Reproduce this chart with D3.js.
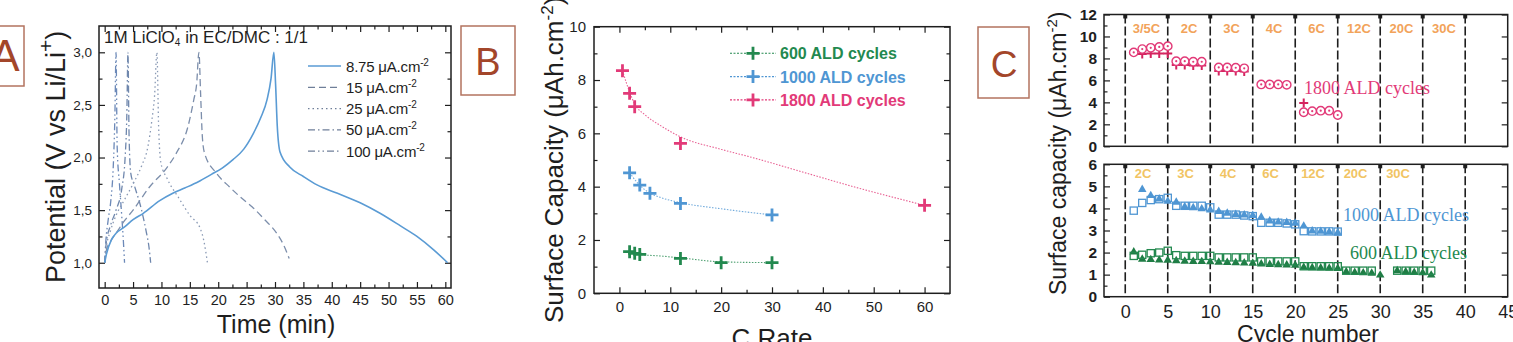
<!DOCTYPE html>
<html>
<head>
<meta charset="utf-8">
<script src="https://cdn.jsdelivr.net/npm/d3@7"></script>
<style>
  body { margin: 0; background: #fff; }
  svg { display: block; }
</style>
</head>
<body>
<script>
// ---------------- data : panel A (galvanostatic curves, [time min, potential V])
const curve875 = [[0,1.0],[0.3,1.08],[1.2,1.22],[2,1.28],[3.5,1.34],[5,1.41],[6.8,1.47],[9.7,1.59],[12,1.66],[14.1,1.71],[16.5,1.77],[18.8,1.84],[20.7,1.9],[22.6,1.98],[24.5,2.08],[26.2,2.23],[27.5,2.38],[28.6,2.55],[29.3,2.75],[29.8,3.0],[30.1,2.7],[30.4,2.3],[30.9,2.05],[32.6,1.91],[35,1.82],[37.4,1.74],[41,1.66],[45,1.57],[48.5,1.47],[52.1,1.35],[55,1.25],[58,1.12],[60.4,1.0]]
const curve15 = [[0,1.0],[0.3,1.12],[1,1.2],[2,1.28],[3.5,1.4],[5,1.5],[7.9,1.72],[10.9,1.9],[12.6,2.04],[14.7,2.3],[15.7,2.55],[16.2,2.7],[16.6,3.0],[16.9,2.6],[17.2,2.2],[17.6,2.04],[19.7,1.85],[22,1.72],[24,1.62],[26,1.53],[28,1.42],[30.3,1.28],[31.5,1.17],[32.5,1.04]]
const curve25 = [[0,1.0],[0.3,1.15],[1,1.3],[2,1.45],[3.5,1.6],[5,1.75],[6.5,1.92],[7.6,2.1],[8.3,2.35],[8.8,2.6],[9.2,3.0],[9.5,2.3],[9.9,1.95],[11,1.8],[13,1.62],[15,1.45],[16.8,1.33],[17.5,1.2],[18.1,1.0]]
const curve50 = [[0,1.0],[0.3,1.2],[1,1.35],[2,1.5],[3,1.7],[3.6,2.0],[3.9,2.4],[4.1,3.0],[4.3,2.2],[4.6,1.85],[5.2,1.74],[6.5,1.5],[7.3,1.3],[7.8,1.15],[8.1,1.0]]
const curve100 = [[0,1.0],[0.2,1.2],[0.6,1.4],[1.1,1.6],[1.5,1.9],[1.8,2.4],[2.0,3.0],[2.2,2.1],[2.6,1.75],[3.0,1.45],[3.3,1.2],[3.5,1.0]]
const legendA = ['8.75 μA.cm', '15 μA.cm', '25 μA.cm', '50 μA.cm', '100 μA.cm']
const timeTicks = [0,5,10,15,20,25,30,35,40,45,50,55,60]
const potentialTicks = [1.0,1.5,2.0,2.5,3.0]

// ---------------- data : panel B (capacity vs C rate)
const cRate600 = [2,3,4,12,20,30]
const cap600 = [1.56,1.5,1.46,1.31,1.15,1.15]
const cRate1000 = [2,4,6,12,30]
const cap1000 = [4.52,4.06,3.75,3.37,2.94]
const cRate1800 = [0.6,2,3,12,60]
const cap1800 = [8.35,7.5,7.0,5.62,3.3]
const fitRate600 = [2,4,8,12,20,30]
const fitCap600 = [1.56,1.46,1.4,1.33,1.18,1.15]
const fitRate1000 = [2,4,6,8,12,20,30]
const fitCap1000 = [4.52,4.05,3.76,3.6,3.4,3.17,2.94]
const fitRate1800 = [0.6,2,3,5,8,12,20,26,36,46,60]
const fitCap1800 = [8.35,7.55,7.1,6.7,6.3,5.87,5.4,5.1,4.55,4.0,3.3]
const legendB = ['600 ALD cycles', '1000 ALD cycles', '1800 ALD cycles']
const cRateTicks = [0,10,20,30,40,50,60]
const capTicksB = [0,2,4,6,8,10]

// ---------------- data : panel C (capacity vs cycle number)
const circ1800Cycle = [1,2,3,4,5,6,7,8,9,11,12,13,14,16,17,18,19,21,22,23,24,25]
const circ1800Cap = [8.55,8.85,8.97,9.05,9.12,7.75,7.75,7.7,7.7,7.18,7.18,7.15,7.1,5.63,5.63,5.63,5.6,3.1,3.2,3.24,3.24,2.85]
const plus1800Cycle = [2,3,4,5,6,7,8,9,11,12,13,14,21]
const plus1800Cap = [8.4,8.45,8.45,8.45,7.4,7.4,7.35,7.35,6.85,6.85,6.85,6.8,3.95]
const sq1000Cycle = d3.range(1, 26)
const sq1000Cap = [3.9,4.25,4.38,4.42,4.48,4.12,4.12,4.12,4.12,4.05,3.72,3.72,3.72,3.68,3.65,3.35,3.35,3.35,3.32,3.28,2.97,2.96,2.96,2.96,2.95]
const tri1000Cycle = d3.range(2, 26)
const tri1000Cap = [4.88,4.6,4.45,4.35,4.3,4.1,4.05,4.0,3.95,3.88,3.8,3.75,3.72,3.7,3.62,3.45,3.4,3.38,3.35,3.22,3.0,2.98,2.95,2.92]
const sq600Cycle = [1,2,3,4,5,6,7,8,9,10,11,12,13,14,15,16,17,18,19,20,21,22,23,24,25,26,27,28,29,32,33,34,35,36]
const sq600Cap = [1.85,1.9,1.97,2.0,2.08,1.88,1.85,1.85,1.85,1.85,1.78,1.78,1.78,1.78,1.78,1.6,1.6,1.6,1.6,1.6,1.38,1.38,1.38,1.38,1.38,1.18,1.18,1.18,1.18,1.18,1.18,1.18,1.18,1.18]
const tri600Cycle = [1,2,3,4,5,6,7,8,9,10,11,12,13,14,15,16,17,18,19,20,21,22,23,24,25,26,27,28,29,30,32,33,34,35,36]
const tri600Cap = [2.05,1.72,1.7,1.68,1.67,1.65,1.63,1.62,1.61,1.6,1.58,1.57,1.56,1.55,1.54,1.5,1.48,1.47,1.46,1.45,1.35,1.33,1.32,1.31,1.3,1.15,1.12,1.1,1.08,1.0,1.2,1.15,1.12,1.1,1.0]
const ratesTop = ['3/5C','2C','3C','4C','6C','12C','20C','30C']
const ratesBottom = ['2C','3C','4C','6C','12C','20C','30C']
const cycleTicks = [0,5,10,15,20,25,30,35,40,45]
const sectionLines = [0,5,10,15,20,25,30,35,40]
const capTicksTop = [0,2,4,6,8,10,12]
const capTicksBottom = [0,1,2,3,4,5,6]

// ---------------- styles
const SANS = 'Arial, "Liberation Sans", sans-serif'
const SERIF = '"Times New Roman", "Liberation Serif", serif'
const INK = '#1e1e1e'
const green = '#23894f', blue = '#4f96d3', pink = '#e23a78'
const boxStroke = '#b3735f', boxInk = '#a3462a'

const svg = d3.select('body').append('svg')
    .attr('width', 1513)
    .attr('height', 342)

function tickAxis(g, axisFn, scale, tx, ty, values, size, fmt, pad, fontSize, weight) {
    const a = g.append('g')
        .attr('transform', `translate(${tx},${ty})`)
        .call(axisFn(scale).tickValues(values).tickSize(-size).tickPadding(pad).tickFormat(fmt))
    a.select('.domain').remove()
    a.selectAll('line').attr('stroke', INK).attr('stroke-width', 1.2)
    a.selectAll('text')
        .attr('font-size', fontSize)
        .attr('font-family', SANS)
        .attr('font-weight', weight || 'normal')
        .attr('fill', INK)
    return a
}
const none = () => ''

function frame(g, x, y) {
    const [x0, x1] = x.range(), [y0, y1] = y.range()
    g.append('rect')
        .attr('x', x0).attr('y', y1)
        .attr('width', x1 - x0).attr('height', y0 - y1)
        .attr('fill', 'none').attr('stroke', INK).attr('stroke-width', 1.5)
}

function letterBox(x, y, w, h, letter, tx, ty, size) {
    svg.append('rect').attr('x', x).attr('y', y).attr('width', w).attr('height', h)
        .attr('fill', 'none').attr('stroke', boxStroke).attr('stroke-width', 1.5)
    svg.append('text').attr('x', tx).attr('y', ty).attr('text-anchor', 'middle')
        .attr('font-family', SANS).attr('font-size', size).attr('fill', boxInk).text(letter)
}

// superscript "-2" after a text
function supTwo(t, size, shift) {
    t.append('tspan').attr('dy', -shift).attr('font-size', size).text('-2')
    return t
}

/////////////////////////////////////////// PANEL A
const gA = svg.append('g')
const xA = d3.scaleLinear().domain([-1, 61]).range([99, 451])
const yA = d3.scaleLinear().domain([0.76, 3.25]).range([288, 26])
const comma = d => d3.format('.1f')(d).replace('.', ',')

tickAxis(gA, d3.axisBottom, xA, 0, 288, timeTicks, 6, d3.format('d'), 7, 14.5)
tickAxis(gA, d3.axisBottom, xA, 0, 288, d3.range(2.5, 60, 5), 3.5, none, 7, 14)
tickAxis(gA, d3.axisTop, xA, 0, 26, timeTicks, 6, none, 7, 14)
tickAxis(gA, d3.axisTop, xA, 0, 26, d3.range(2.5, 60, 5), 3.5, none, 7, 14)
tickAxis(gA, d3.axisLeft, yA, 99, 0, potentialTicks, 6, comma, 7, 13.5)
tickAxis(gA, d3.axisLeft, yA, 99, 0, [1.25, 1.75, 2.25, 2.75], 3.5, none, 7, 13)
tickAxis(gA, d3.axisRight, yA, 451, 0, potentialTicks, 6, none, 7, 13)
tickAxis(gA, d3.axisRight, yA, 451, 0, [1.25, 1.75, 2.25, 2.75], 3.5, none, 7, 13)
frame(gA, xA, yA)

const lineA = d3.line().x(d => xA(d[0])).y(d => yA(d[1])).curve(d3.curveMonotoneX)
const curvesA = [
    { data: curve875, color: '#5a9bd4', dash: null, w: 1.6 },
    { data: curve15, color: '#7c8eab', dash: '7,4', w: 1.3 },
    { data: curve25, color: '#8a9ab5', dash: '1.5,3', w: 1.3 },
    { data: curve50, color: '#6f87ad', dash: '7,3,1.5,3', w: 1.3 },
    { data: curve100, color: '#6c89b8', dash: '7,3,1.5,3,1.5,3', w: 1.3 }
]
curvesA.slice().reverse().forEach(c => {
    gA.append('path').attr('d', lineA(c.data)).attr('fill', 'none')
        .attr('stroke', c.color).attr('stroke-width', c.w)
        .attr('stroke-dasharray', c.dash)
})

// legend A
curvesA.forEach((c, i) => {
    const yy = 66 + i * 21.3
    gA.append('line').attr('x1', 308).attr('x2', 341).attr('y1', yy).attr('y2', yy)
        .attr('stroke', i === 0 ? c.color : '#6f7f99').attr('stroke-width', 1.3).attr('stroke-dasharray', c.dash)
    const t = gA.append('text').attr('x', 346).attr('y', yy + 5.5)
        .attr('font-family', SANS).attr('font-size', 15).attr('fill', INK).attr('letter-spacing', -0.2)
        .text(legendA[i])
    supTwo(t, 10, 6)
})

const noteA = gA.append('text').attr('x', 104).attr('y', 43)
    .attr('font-family', SANS).attr('font-size', 17).attr('fill', INK)
noteA.append('tspan').text('1M LiClO')
noteA.append('tspan').attr('font-size', 10).attr('dy', 3).text('4')
noteA.append('tspan').attr('dy', -3).text(' in EC/DMC : 1/1')

gA.append('text').attr('x', 276).attr('y', 333).attr('text-anchor', 'middle')
    .attr('font-family', SANS).attr('font-size', 25).attr('fill', INK).text('Time (min)')
const yLabA = gA.append('text').attr('transform', 'translate(65,283) rotate(-90)')
    .attr('font-family', SANS).attr('font-size', 27).attr('fill', INK)
yLabA.append('tspan').text('Potential (V vs Li/Li')
yLabA.append('tspan').attr('dy', -12).attr('font-size', 21).text('+')
yLabA.append('tspan').attr('dy', 12).text(')')

letterBox(-30, 26, 54, 60, 'A', 5, 71, 44)

/////////////////////////////////////////// PANEL B
const gB = svg.append('g')
const xB = d3.scaleLinear().domain([-5, 65]).range([594, 950])
const yB = d3.scaleLinear().domain([0, 10]).range([293.3, 26.7])

tickAxis(gB, d3.axisBottom, xB, 0, 293.3, cRateTicks, 6, d3.format('d'), 8, 15)
tickAxis(gB, d3.axisBottom, xB, 0, 293.3, d3.range(5, 65, 10), 3.5, none, 8, 15)
tickAxis(gB, d3.axisTop, xB, 0, 26.7, cRateTicks, 6, none, 8, 15)
tickAxis(gB, d3.axisTop, xB, 0, 26.7, d3.range(5, 65, 10), 3.5, none, 8, 15)
tickAxis(gB, d3.axisLeft, yB, 594, 0, capTicksB, 6, d3.format('d'), 8, 15)
tickAxis(gB, d3.axisLeft, yB, 594, 0, [1,3,5,7,9], 3.5, none, 8, 15)
tickAxis(gB, d3.axisRight, yB, 950, 0, capTicksB, 6, none, 8, 15)
tickAxis(gB, d3.axisRight, yB, 950, 0, [1,3,5,7,9], 3.5, none, 8, 15)
frame(gB, xB, yB)

const lineB = d3.line().x(d => xB(d[0])).y(d => yB(d[1])).curve(d3.curveMonotoneX)
const seriesB = [
    { rate: cRate600, cap: cap600, fr: fitRate600, fc: fitCap600, color: green },
    { rate: cRate1000, cap: cap1000, fr: fitRate1000, fc: fitCap1000, color: blue },
    { rate: cRate1800, cap: cap1800, fr: fitRate1800, fc: fitCap1800, color: pink }
]
const crossPath = s => `M${-s},0H${s}M0,${-s}V${s}`
seriesB.forEach(s => {
    gB.append('path').attr('d', lineB(d3.zip(s.fr, s.fc))).attr('fill', 'none')
        .attr('stroke', s.color).attr('stroke-width', 1.1).attr('stroke-dasharray', '1.5,1.5').attr('opacity', 0.8)
    gB.selectAll(null).data(d3.zip(s.rate, s.cap)).join('path')
        .attr('transform', d => `translate(${xB(d[0])},${yB(d[1])})`)
        .attr('d', crossPath(6.5)).attr('stroke', s.color).attr('stroke-width', 2.8).attr('fill', 'none')
})

seriesB.forEach((s, i) => {
    const yy = 53.3 + i * 23.3
    gB.append('line').attr('x1', 730).attr('x2', 776).attr('y1', yy).attr('y2', yy)
        .attr('stroke', s.color).attr('stroke-width', 1.1).attr('stroke-dasharray', '2,1.5')
    gB.append('path').attr('transform', `translate(753,${yy})`).attr('d', crossPath(6.5))
        .attr('stroke', s.color).attr('stroke-width', 2.8)
    gB.append('text').attr('x', 780).attr('y', yy + 6)
        .attr('font-family', SANS).attr('font-weight', 'bold').attr('font-size', 16)
        .attr('fill', s.color).text(legendB[i])
})

gB.append('text').attr('x', 772).attr('y', 347).attr('text-anchor', 'middle')
    .attr('font-family', SANS).attr('font-size', 26).attr('fill', INK).text('C Rate')
const yLabB = gB.append('text').attr('transform', 'translate(563,323) rotate(-90)')
    .attr('font-family', SANS).attr('font-size', 26).attr('fill', INK)
yLabB.append('tspan').text('Surface Capacity (μAh.cm')
supTwo(yLabB, 17, 10)
yLabB.append('tspan').attr('dy', 10).text(')')

letterBox(461, 26, 54, 69, 'B', 488, 75, 38)

/////////////////////////////////////////// PANEL C
const gC = svg.append('g')
const xC = d3.scaleLinear().domain([-2.5, 45]).range([1104, 1507.7])
const yCt = d3.scaleLinear().domain([0, 12]).range([146.3, 14.5])
const yCb = d3.scaleLinear().domain([0, 6]).range([296.7, 164.3])

tickAxis(gC, d3.axisLeft, yCt, 1104, 0, capTicksTop, 6, d3.format('d'), 7, 15.5, 'bold')
tickAxis(gC, d3.axisLeft, yCt, 1104, 0, [1,3,5,7,9,11], 3.5, none, 7, 15)
tickAxis(gC, d3.axisRight, yCt, 1507.7, 0, capTicksTop, 6, none, 7, 15)
tickAxis(gC, d3.axisLeft, yCb, 1104, 0, capTicksBottom, 6, d3.format('d'), 7, 15.5, 'bold')
tickAxis(gC, d3.axisLeft, yCb, 1104, 0, [0.5,1.5,2.5,3.5,4.5,5.5], 3.5, none, 7, 15)
tickAxis(gC, d3.axisRight, yCb, 1507.7, 0, capTicksBottom, 6, none, 7, 15)
tickAxis(gC, d3.axisBottom, xC, 0, 296.7, cycleTicks, 0, d3.format('d'), 9, 18)

;[yCt, yCb].forEach(y => {
    gC.selectAll(null).data(sectionLines).join('line')
        .attr('x1', d => xC(d)).attr('x2', d => xC(d))
        .attr('y1', y.range()[1]).attr('y2', y.range()[0])
        .attr('stroke', INK).attr('stroke-width', 1.6).attr('stroke-dasharray', '9,3')
    gC.selectAll(null).data(sectionLines).join('rect')
        .attr('x', d => xC(d) - 2).attr('y', y.range()[1])
        .attr('width', 4).attr('height', 4).attr('fill', INK)
    frame(gC, xC, y)
})

// rate labels
gC.selectAll(null).data(ratesTop).join('text')
    .attr('x', (d, i) => xC(i * 5 + 2.5)).attr('y', 33).attr('text-anchor', 'middle')
    .attr('font-family', SANS).attr('font-weight', 'bold').attr('font-size', 13)
    .attr('fill', '#f2a35a').text(d => d)
gC.selectAll(null).data(ratesBottom).join('text')
    .attr('x', (d, i) => xC(i * 5 + 2.1)).attr('y', 178).attr('text-anchor', 'middle')
    .attr('font-family', SANS).attr('font-weight', 'bold').attr('font-size', 13)
    .attr('fill', '#f1c463').text(d => d)

// 1800 ALD
gC.selectAll(null).data(d3.zip(plus1800Cycle, plus1800Cap)).join('path')
    .attr('transform', d => `translate(${xC(d[0])},${yCt(d[1])})`)
    .attr('d', crossPath(4.5)).attr('stroke', '#d4245f').attr('stroke-width', 2).attr('fill', 'none')
const circ = gC.selectAll(null).data(d3.zip(circ1800Cycle, circ1800Cap)).join('g')
    .attr('transform', d => `translate(${xC(d[0])},${yCt(d[1])})`)
circ.append('circle').attr('r', 4.2).attr('fill', '#fff').attr('stroke', pink).attr('stroke-width', 1.4)
circ.append('circle').attr('r', 1.1).attr('fill', pink)

// 1000 ALD
const triPath = s => `M0,${-s}L${s * 0.95},${s * 0.65}H${-s * 0.95}Z`
gC.selectAll(null).data(d3.zip(tri1000Cycle, tri1000Cap)).join('path')
    .attr('transform', d => `translate(${xC(d[0])},${yCb(d[1])})`)
    .attr('d', triPath(4.5)).attr('fill', blue)
gC.selectAll(null).data(d3.zip(sq1000Cycle, sq1000Cap)).join('rect')
    .attr('x', d => xC(d[0]) - 3.6).attr('y', d => yCb(d[1]) - 3.6)
    .attr('width', 7.2).attr('height', 7.2)
    .attr('fill', 'none').attr('stroke', blue).attr('stroke-width', 1.3)

// 600 ALD
gC.selectAll(null).data(d3.zip(tri600Cycle, tri600Cap)).join('path')
    .attr('transform', d => `translate(${xC(d[0])},${yCb(d[1])})`)
    .attr('d', triPath(4.5)).attr('fill', '#1f7d45')
gC.selectAll(null).data(d3.zip(sq600Cycle, sq600Cap)).join('rect')
    .attr('x', d => xC(d[0]) - 3.6).attr('y', d => yCb(d[1]) - 3.6)
    .attr('width', 7.2).attr('height', 7.2)
    .attr('fill', 'none').attr('stroke', green).attr('stroke-width', 1.3)

gC.append('text').attr('x', 1304).attr('y', 94).attr('font-family', SERIF)
    .attr('font-size', 18).attr('fill', pink).text('1800 ALD cycles')
gC.append('text').attr('x', 1343).attr('y', 221).attr('font-family', SERIF)
    .attr('font-size', 18).attr('fill', blue).text('1000 ALD cycles')
gC.append('text').attr('x', 1350).attr('y', 259).attr('font-family', SERIF)
    .attr('font-size', 18).attr('fill', green).text('600 ALD cycles')

gC.append('text').attr('x', 1308).attr('y', 342).attr('text-anchor', 'middle')
    .attr('font-family', SANS).attr('font-size', 23).attr('fill', INK).text('Cycle number')
const yLabC = gC.append('text').attr('transform', 'translate(1066,295) rotate(-90)')
    .attr('font-family', SANS).attr('font-size', 23).attr('fill', INK)
yLabC.append('tspan').text('Surface capacity (μAh.cm')
supTwo(yLabC, 15, 9)
yLabC.append('tspan').attr('dy', 9).text(')')

letterBox(978, 27, 51, 71, 'C', 1004, 77, 37)
</script>
</body>
</html>
